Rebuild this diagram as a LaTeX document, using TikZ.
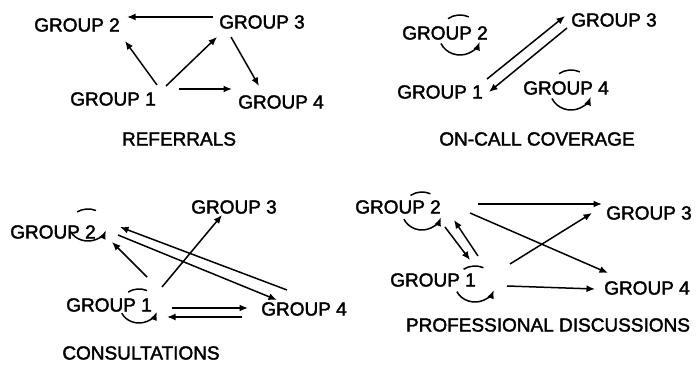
\documentclass[tikz,border=0pt]{standalone}
\usepackage{fontspec}
\setmainfont[FakeBold=2]{Liberation Sans}
\usetikzlibrary{arrows.meta}
\tikzset{
  grp/.style={inner sep=0pt, font=\fontsize{19}{19}\selectfont},
  ttl/.style={inner sep=0pt, font=\fontsize{19}{19}\selectfont},
  arr/.style={line width=1.5pt, -{Latex[length=8.5pt,width=7pt]}},
  lp/.style={line width=1.5pt},
}
% self loop: node, dx, dy, x radius, y radius
\newcommand{\selfloop}[5]{%
  \draw[lp] ([shift={(#2,#3)}]#1.center) ++({#4*cos(-65)},{#5*sin(-65)}) arc[start angle=-65, end angle=-125, x radius=#4, y radius=#5];
  \draw[arr] ([shift={(#2,#3)}]#1.center) ++({#4*cos(155)},{#5*sin(155)}) arc[start angle=155, end angle=20, x radius=#4, y radius=#5];
}
\begin{document}
\begin{tikzpicture}[x=1pt,y=-1pt]
\useasboundingbox (0,0) rectangle (697,366);
% ---------- Panel 1: REFERRALS
\node[grp] (a2) at (77,25) {GROUP 2};
\node[grp] (a3) at (262,22) {GROUP 3};
\node[grp] (a1) at (113,99) {GROUP 1};
\node[grp] (a4) at (281,102) {GROUP 4};
\node[ttl] (ta) at (179,139) {REFERRALS};
\draw[arr] ([shift={(-49,-5)}]a3.center) -- ([shift={(50,-8)}]a2.center);
\draw[arr] ([shift={(44,-14)}]a1.center) -- ([shift={(48,16)}]a2.center);
\draw[arr] ([shift={(53,-13)}]a1.center) -- ([shift={(-45,15)}]a3.center);
\draw[arr] ([shift={(-31,15)}]a3.center) -- ([shift={(-22,-16)}]a4.center);
\draw[arr] ([shift={(66,-10)}]a1.center) -- ([shift={(-49,-13)}]a4.center);
% ---------- Panel 2: ON-CALL COVERAGE
\node[grp] (b2) at (445,33) {GROUP 2};
\node[grp] (b3) at (614,20) {GROUP 3};
\node[grp] (b1) at (440,92) {GROUP 1};
\node[grp] (b4) at (566,88) {GROUP 4};
\node[ttl] (tb) at (537,139) {ON-CALL COVERAGE};
\draw[arr] ([shift={(47,-13)}]b1.center) -- ([shift={(-49,-4)}]b3.center);
\draw[arr] ([shift={(-47,8)}]b3.center) -- ([shift={(49,0)}]b1.center);
\selfloop{b2}{15}{2}{21}{20}
\selfloop{b4}{5}{2}{21}{20}
% ---------- Panel 3: CONSULTATIONS
\node[grp] (c3) at (234,207) {GROUP 3};
\node[grp] (c2) at (53,232) {GROUP 2};
\node[grp] (c1) at (109,305) {GROUP 1};
\node[grp] (c4) at (304,309) {GROUP 4};
\node[ttl] (tc) at (141,353) {CONSULTATIONS};
\draw[arr] ([shift={(38,-28)}]c1.center) -- ([shift={(59,10)}]c2.center);
\draw[arr] ([shift={(53,-18)}]c1.center) -- ([shift={(-12,8)}]c3.center);
\draw[arr] ([shift={(-17,-19)}]c4.center) -- ([shift={(67,-5)}]c2.center);
\draw[arr] ([shift={(65,3)}]c2.center) -- ([shift={(-27,-9)}]c4.center);
\draw[arr] ([shift={(63,3)}]c1.center) -- ([shift={(-56,-1)}]c4.center);
\draw[arr] ([shift={(-62,8)}]c4.center) -- ([shift={(58,12)}]c1.center);
\selfloop{c2}{35}{-7}{19}{16}
\selfloop{c1}{30}{1}{19}{17}
% ---------- Panel 4: PROFESSIONAL DISCUSSIONS
\node[grp] (d2) at (398,207) {GROUP 2};
\node[grp] (d3) at (649,213) {GROUP 3};
\node[grp] (d1) at (433,280) {GROUP 1};
\node[grp] (d4) at (647,288) {GROUP 4};
\node[ttl] (td) at (548,325) {PROFESSIONAL DISCUSSIONS};
\draw[arr] ([shift={(80,-3)}]d2.center) -- ([shift={(-47,-9)}]d3.center);
\draw[arr] ([shift={(72,6)}]d2.center) -- ([shift={(-39,-15)}]d4.center);
\draw[arr] ([shift={(77,-16)}]d1.center) -- ([shift={(-57,0)}]d3.center);
\draw[arr] ([shift={(74,6)}]d1.center) -- ([shift={(-52,1)}]d4.center);
\draw[arr] ([shift={(47,20)}]d2.center) -- ([shift={(37,-20)}]d1.center);
\draw[arr] ([shift={(45,-24)}]d1.center) -- ([shift={(56,13)}]d2.center);
\selfloop{d2}{24}{4}{20}{19}
\selfloop{d1}{42}{4}{20}{18}
\end{tikzpicture}
\end{document}
